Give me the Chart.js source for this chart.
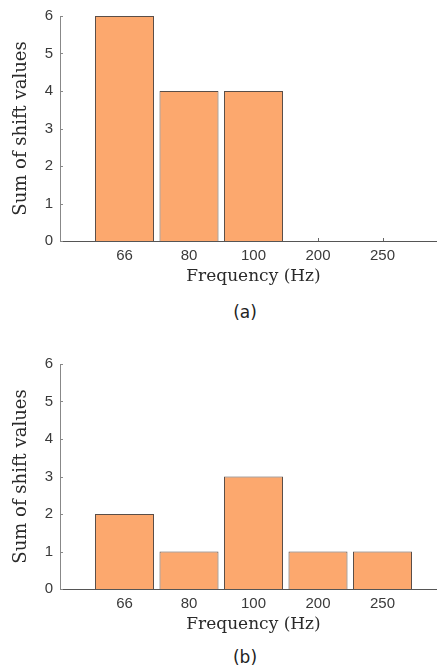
<!DOCTYPE html>
<html>
<head>
<meta charset="utf-8">
<script src="https://cdn.jsdelivr.net/npm/chart.js@4/dist/chart.umd.min.js"></script>
<style>
  html, body { margin: 0; padding: 0; background: #fff; overflow: hidden; width: 437px; height: 667px; }
  .wrap { position: absolute; left: 0; width: 453px; height: 290px; }
  .wrap canvas { display: block; }
  .cap { position: absolute; left: 0; width: 490px; text-align: center; font-family: "DejaVu Sans", sans-serif; font-size: 17px; color: #222; line-height: 20px; }
</style>
</head>
<body>
<div class="wrap" style="top:0px"><canvas id="chartA" width="453" height="290"></canvas></div>
<div class="cap" style="top:302px">(a)</div>
<div class="wrap" style="top:348px"><canvas id="chartB" width="453" height="290"></canvas></div>
<div class="cap" style="top:647px">(b)</div>
<script>
// ---- data ----
const categories = ['66', '80', '100', '200', '250'];
const valuesA = [6, 4, 4, 0, 0];
const valuesB = [2, 1, 3, 1, 1];
const yTicks = [0, 1, 2, 3, 4, 5, 6];
const xTitle = 'Frequency (Hz)';
const yTitle = 'Sum of shift values';

// the x range runs from one empty slot before the first category to one after the last
const paddedLabels = [''].concat(categories, ['']);
const pad = arr => [null].concat(arr, [null]);

const innerTicks = {
  id: 'innerTicks',
  beforeDatasetsDraw(chart) {
    const { ctx, chartArea, scales } = chart;
    const x = scales.x, y = scales.y;
    ctx.save();
    ctx.lineWidth = 1;
    ctx.strokeStyle = '#666';
    ctx.beginPath();
    x.ticks.forEach((t, i) => {
      if (!t.label) return;
      const px = Math.round(x.getPixelForTick(i)) + 0.5;
      ctx.moveTo(px, chartArea.bottom);
      ctx.lineTo(px, chartArea.bottom - 3);
    });
    ctx.stroke();
    ctx.strokeStyle = '#888';
    ctx.beginPath();
    y.ticks.forEach((t, i) => {
      const py = Math.round(y.getPixelForTick(i)) + 0.5;
      ctx.moveTo(chartArea.left, py);
      ctx.lineTo(chartArea.left + 3, py);
    });
    ctx.stroke();
    ctx.restore();
  }
};

function makeChart(id, values) {
  return new Chart(document.getElementById(id), {
    type: 'bar',
    data: {
      labels: paddedLabels,
      datasets: [{
        data: pad(values),
        backgroundColor: '#FCA86E',
        borderColor: '#5a4e48',
        borderWidth: 1,
        borderSkipped: 'start',
        categoryPercentage: 1,
        barPercentage: 0.915
      }]
    },
    options: {
      responsive: false,
      animation: false,
      devicePixelRatio: 1,
      layout: { padding: { top: 15, left: 0, right: 0, bottom: 0 } },
      plugins: { legend: { display: false }, tooltip: { enabled: false } },
      scales: {
        x: {
          type: 'category',
          offset: false,
          grid: { display: false, drawTicks: false },
          border: { display: true, color: '#555', width: 1 },
          ticks: {
            autoSkip: false, maxRotation: 0, padding: 6,
            color: '#3a3a3a',
            font: { family: 'Liberation Sans', size: 15 }
          },
          title: {
            display: true, text: xTitle, color: '#2a2a2a',
            font: { family: 'DejaVu Serif', size: 17 },
            padding: { top: 0, bottom: 3 }
          },
          afterFit(scale) { scale.height = 49; }
        },
        y: {
          min: 0, max: 6,
          afterBuildTicks(scale) { scale.ticks = yTicks.map(v => ({ value: v })); },
          grid: { display: false, drawTicks: false },
          border: { display: true, color: '#888', width: 1 },
          ticks: {
            padding: 7, color: '#3a3a3a',
            font: { family: 'Liberation Sans', size: 15 }
          },
          title: {
            display: true, text: yTitle, color: '#2a2a2a',
            font: { family: 'DejaVu Serif', size: 18 },
            padding: { top: 11, bottom: 0 }
          },
          afterFit(scale) { scale.width = 60; }
        }
      }
    },
    plugins: [innerTicks]
  });
}

makeChart('chartA', valuesA);
makeChart('chartB', valuesB);
</script>
</body>
</html>
